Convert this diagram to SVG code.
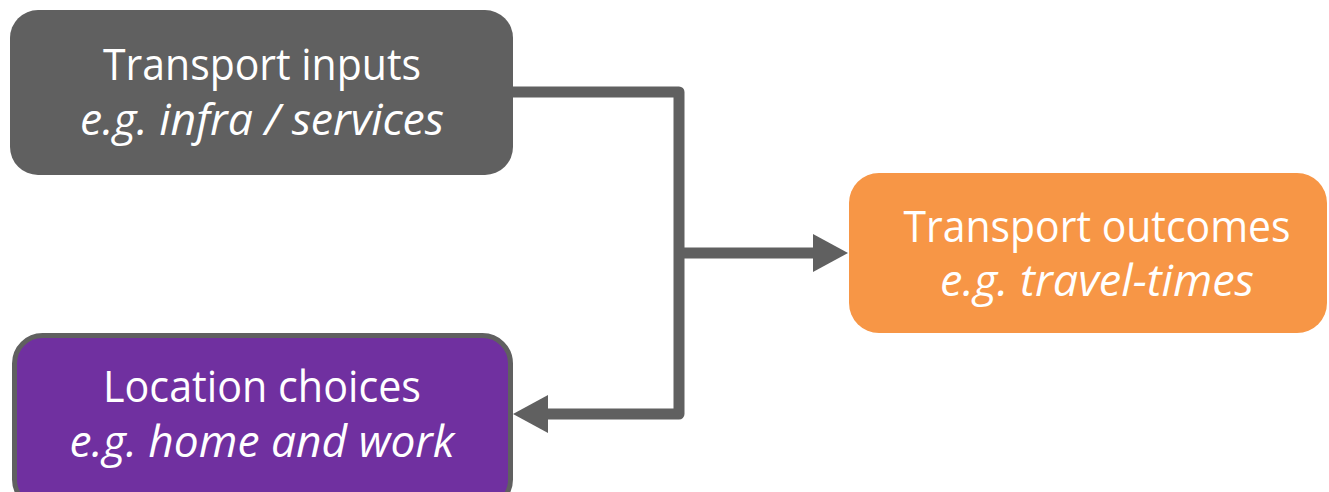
<svg xmlns="http://www.w3.org/2000/svg" width="1329" height="492" viewBox="0 0 1329 492">
<style>
.t{font-family:"Open Sans","Liberation Sans",sans-serif;font-size:44px;fill:#ffffff;text-anchor:middle}
.i{font-style:italic}
.conn{fill:none;stroke:#606060;stroke-width:11;stroke-linejoin:round}
</style>
<defs>
<marker id="arr" markerUnits="userSpaceOnUse" markerWidth="36" markerHeight="38" refX="0" refY="19" orient="auto">
<path d="M0,0 L35,19 L0,38 z" fill="#606060"/>
</marker>
</defs>
<rect width="1329" height="492" fill="#ffffff"/>
<g id="connectors">
<path class="conn" d="M513,92 H679 V414 H548" marker-end="url(#arr)"/>
<path class="conn" d="M679,253 H813" marker-end="url(#arr)"/>
</g>
<g id="transport-inputs">
<rect x="10" y="10" width="503" height="165" rx="28" fill="#606060"/>
<text class="t" x="262" y="80" textLength="318" lengthAdjust="spacingAndGlyphs">Transport inputs</text>
<text class="t i" x="262" y="135" textLength="364" lengthAdjust="spacingAndGlyphs">e.g. infra / services</text>
</g>
<g id="transport-outcomes">
<rect x="849" y="173" width="478" height="160" rx="30" fill="#F79646"/>
<text class="t" x="1097" y="242" textLength="387" lengthAdjust="spacingAndGlyphs">Transport outcomes</text>
<text class="t i" x="1097" y="296" textLength="314" lengthAdjust="spacingAndGlyphs">e.g. travel-times</text>
</g>
<g id="location-choices">
<rect x="14.5" y="335.5" width="496" height="172" rx="28" fill="#7030A0" stroke="#606060" stroke-width="5"/>
<text class="t" x="262" y="402" textLength="318" lengthAdjust="spacingAndGlyphs">Location choices</text>
<text class="t i" x="262" y="457" textLength="385" lengthAdjust="spacingAndGlyphs">e.g. home and work</text>
</g>
</svg>
